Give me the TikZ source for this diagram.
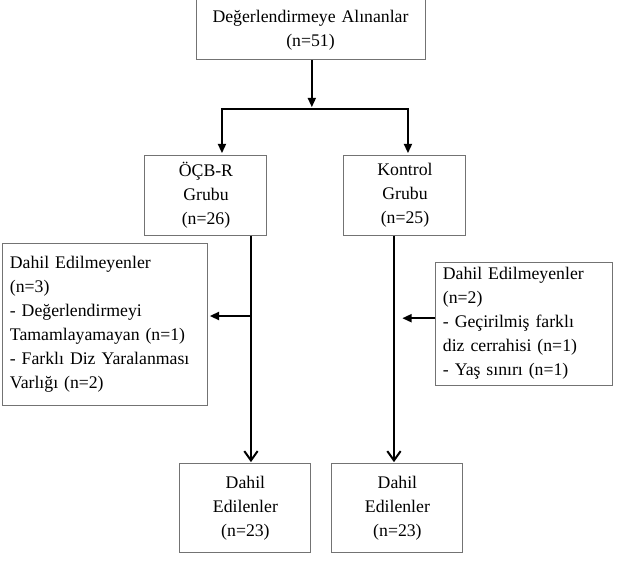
\documentclass[tikz,border=0pt]{standalone}
\usepackage{fontspec}
\setmainfont{Liberation Serif}
\usepackage{tikz}
\usetikzlibrary{positioning, arrows.meta}

\begin{document}
\begin{tikzpicture}[x=0.75pt,y=-0.75pt,on grid,shorten >=1pt,
    font=\fontsize{13.3}{18}\selectfont,
    box/.style={draw=black!55,line width=0.75pt,inner sep=0pt,align=center},
    excl/.style={box,inner xsep=5.25pt,align=left},
    line/.style={line width=1.5pt},
    arr/.style={line,-{Triangle[length=7pt,width=6pt]}},
    openarr/.style={line,-{Straight Barb[length=7pt,width=10pt]}}]
       \useasboundingbox (0,0) rectangle (617,560);

       \node[box,text width=171.75pt,minimum height=45pt] (top) at (310.5,30)
            {Değerlendirmeye Alınanlar\\(n=51)};
       \node[box,text width=91.5pt,minimum height=60pt] (ocb) [below left=123.75pt and 78.4pt of top]
            {ÖÇB-R\\Grubu\\(n=26)};
       \node[box,text width=91.5pt,minimum height=60pt] (kontrol) [right=149.25pt of ocb]
            {Kontrol\\Grubu\\(n=25)};
       \node[excl,text width=143.25pt,minimum height=121.5pt] (exclL) [below left=96.75pt and 75.4pt of ocb]
            {Dahil Edilmeyenler\\(n=3)\\- Değerlendirmeyi\\Tamamlayamayan (n=1)\\- Farklı Diz Yaralanması\\Varlığı (n=2)};
       \node[excl,text width=122.25pt,minimum height=92.25pt] (exclR) [below right=96.4pt and 89.6pt of kontrol]
            {Dahil Edilmeyenler\\(n=2)\\- Geçirilmiş farklı\\diz cerrahisi (n=1)\\- Yaş sınırı (n=1)};
       \node[box,text width=98.25pt,minimum height=66.75pt] (dahilL) [below right=235.1pt and 29.6pt of ocb]
            {Dahil\\Edilenler\\(n=23)};
       \node[box,text width=98.25pt,minimum height=66.75pt] (dahilR) [right=114pt of dahilL]
            {Dahil\\Edilenler\\(n=23)};

       % split under the first box
       \coordinate (split) at ([xshift=1pt,yshift=-36pt]top.south);
       \coordinate (lin) at ([xshift=12pt]ocb.north);
       \coordinate (rin) at ([xshift=2.25pt]kontrol.north);
       \draw[arr] (top.south -| split) -- (split);
       \draw[line,shorten >=0pt] ([xshift=-0.75pt]split -| lin) -- ([xshift=0.75pt]split -| rin);
       \draw[arr] (split -| lin) -- (lin);
       \draw[arr] (split -| rin) -- (rin);

       % left branch
       \coordinate (lout) at ([xshift=33.75pt]ocb.south);
       \coordinate (lend) at ([yshift=6pt]exclL.east);
       \draw[openarr] (lout) -- (lout |- dahilL.north);
       \draw[arr] (lout |- lend) -- (lend);

       % right branch
       \coordinate (rout) at ([xshift=-8.25pt]kontrol.south);
       \coordinate (rstart) at ([yshift=4pt]exclR.west);
       \draw[openarr] (rout) -- (rout |- dahilR.north);
       \draw[arr] (rstart) -- ([xshift=5.25pt]rstart -| rout);
\end{tikzpicture}
\end{document}
